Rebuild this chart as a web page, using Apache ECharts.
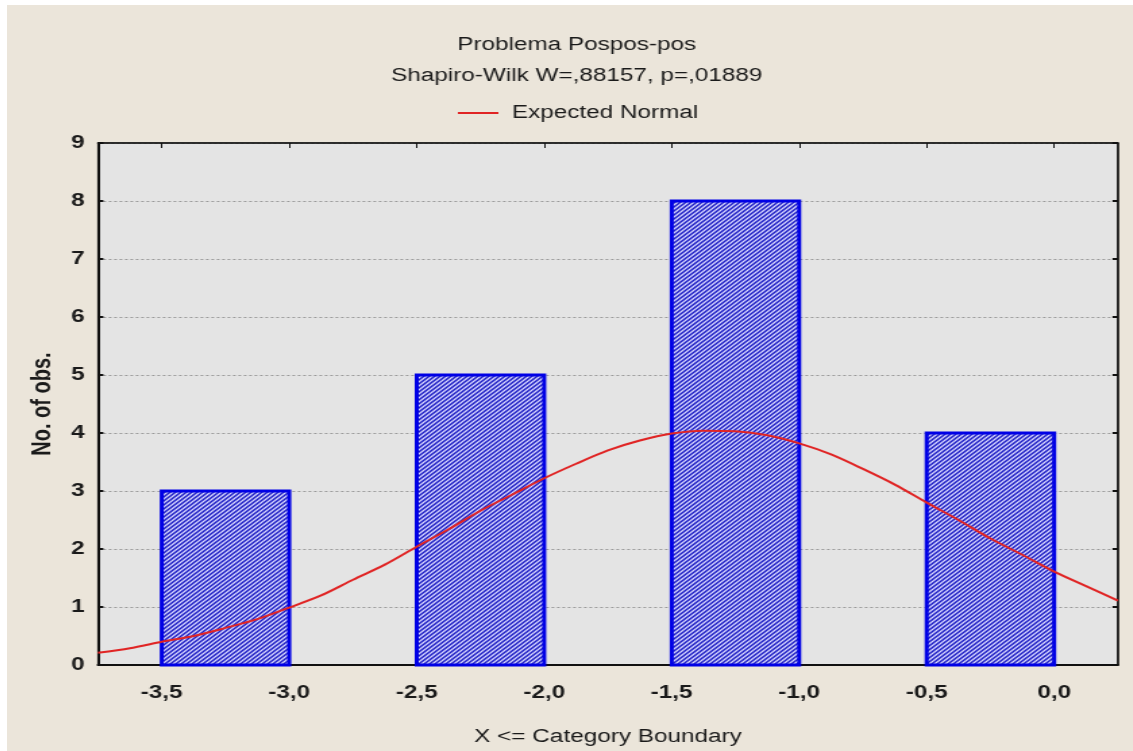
<!DOCTYPE html>
<html>
<head>
<meta charset="utf-8">
<script src="https://cdn.jsdelivr.net/npm/echarts@6/dist/echarts.min.js"></script>
<style>
html,body{margin:0;padding:0;background:#ffffff;width:1133px;height:751px;overflow:hidden;}
#wrap{position:absolute;left:7px;top:5px;width:1126px;height:746px;background:#ebe5da;overflow:hidden;}
#c{position:absolute;left:0;top:0;width:834px;height:746px;transform:scaleX(1.35);transform-origin:0 0;}
</style>
</head>
<body>
<div id="wrap"><div id="c"></div></div>
<script>
// ---- data ----
const binStart = [-3.5, -2.5, -1.5, -0.5];
const binEnd = [-3.0, -2.0, -1.0, 0.0];
const counts = [3, 5, 8, 4];
const curveX = [-3.75, -3.625, -3.5, -3.375, -3.25, -3.125, -3.0, -2.875, -2.75, -2.625, -2.5, -2.375, -2.25, -2.125, -2.0, -1.875, -1.75, -1.625, -1.5, -1.375, -1.25, -1.125, -1.0, -0.875, -0.75, -0.625, -0.5, -0.375, -0.25, -0.125, 0.0, 0.125, 0.25];
const curveY = [0.21, 0.29, 0.40, 0.50, 0.64, 0.79, 0.99, 1.20, 1.47, 1.73, 2.04, 2.34, 2.66, 2.94, 3.22, 3.47, 3.70, 3.87, 3.99, 4.04, 4.03, 3.96, 3.82, 3.63, 3.38, 3.11, 2.80, 2.50, 2.18, 1.90, 1.61, 1.36, 1.11];
const xTicks = [-3.5, -3.0, -2.5, -2.0, -1.5, -1.0, -0.5, 0.0];
const xTickLabels = ['-3,5', '-3,0', '-2,5', '-2,0', '-1,5', '-1,0', '-0,5', '0,0'];
const titleText = 'Problema Pospos-pos';
const subText = 'Shapiro-Wilk W=,88157, p=,01889';
const legendName = 'Expected Normal';
const xName = 'X <= Category Boundary';
const yName = 'No. of obs.';

// hatch pattern
const pc = document.createElement('canvas');
pc.width = 4; pc.height = 4;
const g = pc.getContext('2d');
g.fillStyle = '#d6d6ff';
g.fillRect(0, 0, 4, 4);
g.strokeStyle = '#1e1ec4';
g.lineWidth = 1.5;
g.beginPath();
g.moveTo(-1, 5); g.lineTo(5, -1);
g.moveTo(-3, 3); g.lineTo(3, -3);
g.moveTo(1, 7); g.lineTo(7, 1);
g.stroke();

const font = '"Liberation Sans", Arial, sans-serif';
const txt = '#1a1a1a';
const chart = echarts.init(document.getElementById('c'));
const histData = binStart.map((s, i) => [s, binEnd[i], counts[i]]);
const lineData = curveX.map((x, i) => [x, curveY[i]]);

chart.setOption({
  animation: false,
  textStyle: {fontFamily: font},
  graphic: [
    {type: 'text', x: 422, y: 40, style: {text: titleText, font: '18px ' + font, fill: txt, textAlign: 'center', textVerticalAlign: 'middle'}},
    {type: 'text', x: 422, y: 71, style: {text: subText, font: '18px ' + font, fill: txt, textAlign: 'center', textVerticalAlign: 'middle'}}
  ],
  legend: {
    left: 329, top: 94,
    itemWidth: 30, itemHeight: 2, itemGap: 10,
    icon: 'rect',
    textStyle: {fontSize: 18, color: txt, fontFamily: font, padding: [0, 0, 0, 5]},
    data: [{name: legendName}]
  },
  grid: {left: 67.4, right: 11.1, top: 138, bottom: 83, show: true, backgroundColor: '#e4e4e4', borderColor: '#111', borderWidth: 1},
  xAxis: [{
    type: 'value', min: -3.75, max: 0.25, position: 'bottom',
    name: xName, nameLocation: 'middle', nameGap: 63,
    nameTextStyle: {fontSize: 18, color: txt, fontFamily: font},
    axisLine: {onZero: false, lineStyle: {color: '#111', width: 2}},
    axisTick: {show: true, inside: true, length: 5, customValues: xTicks, lineStyle: {color: '#111'}},
    axisLabel: {customValues: xTicks, fontSize: 18, fontWeight: 'bold', color: txt, margin: 19,
      formatter: v => { const i = xTicks.findIndex(t => Math.abs(t - v) < 1e-6); return i >= 0 ? xTickLabels[i] : ''; }},
    splitLine: {show: false}
  }, {
    type: 'value', min: -3.75, max: 0.25, position: 'top',
    axisLine: {show: true, onZero: false, lineStyle: {color: '#111', width: 1.5}},
    axisTick: {show: true, inside: true, length: 5, customValues: xTicks, lineStyle: {color: '#111'}},
    axisLabel: {show: false}, splitLine: {show: false}
  }],
  yAxis: [{
    type: 'value', min: 0, max: 9, interval: 1, position: 'left',
    name: yName, nameLocation: 'middle', nameGap: 31, nameRotate: 90,
    nameTextStyle: {fontSize: 20, fontWeight: 'bold', color: txt, fontFamily: font},
    axisLine: {show: true, onZero: false, lineStyle: {color: '#111', width: 2}},
    axisTick: {show: true, inside: true, length: 4, lineStyle: {color: '#111', width: 2}},
    axisLabel: {fontSize: 18, fontWeight: 'bold', color: txt, margin: 10},
    splitLine: {show: true, lineStyle: {color: '#9a9a9a', type: [2, 2], width: 1}}
  }, {
    type: 'value', min: 0, max: 9, interval: 1, position: 'right',
    axisLine: {show: true, onZero: false, lineStyle: {color: '#111', width: 1.5}},
    axisTick: {show: true, inside: true, length: 4, lineStyle: {color: '#111', width: 2}},
    axisLabel: {show: false}, splitLine: {show: false}
  }],
  series: [{
    type: 'custom',
    name: 'hist',
    xAxisIndex: 0, yAxisIndex: 0,
    data: histData,
    encode: {x: [0, 1], y: 2},
    renderItem: function (params, api) {
      const p0 = api.coord([api.value(0), 0]);
      const p1 = api.coord([api.value(1), api.value(2)]);
      return {
        type: 'rect',
        shape: {x: p0[0], y: p1[1], width: p1[0] - p0[0], height: p0[1] - p1[1]},
        style: {fill: {image: pc, repeat: 'repeat'}, stroke: '#0000e6', lineWidth: 3}
      };
    },
    z: 2
  }, {
    type: 'line',
    name: legendName,
    xAxisIndex: 0, yAxisIndex: 0,
    data: lineData,
    smooth: 0.3,
    symbol: 'none',
    lineStyle: {color: '#e02424', width: 2},
    itemStyle: {color: '#e02424'},
    z: 3
  }]
});
</script>
</body>
</html>
